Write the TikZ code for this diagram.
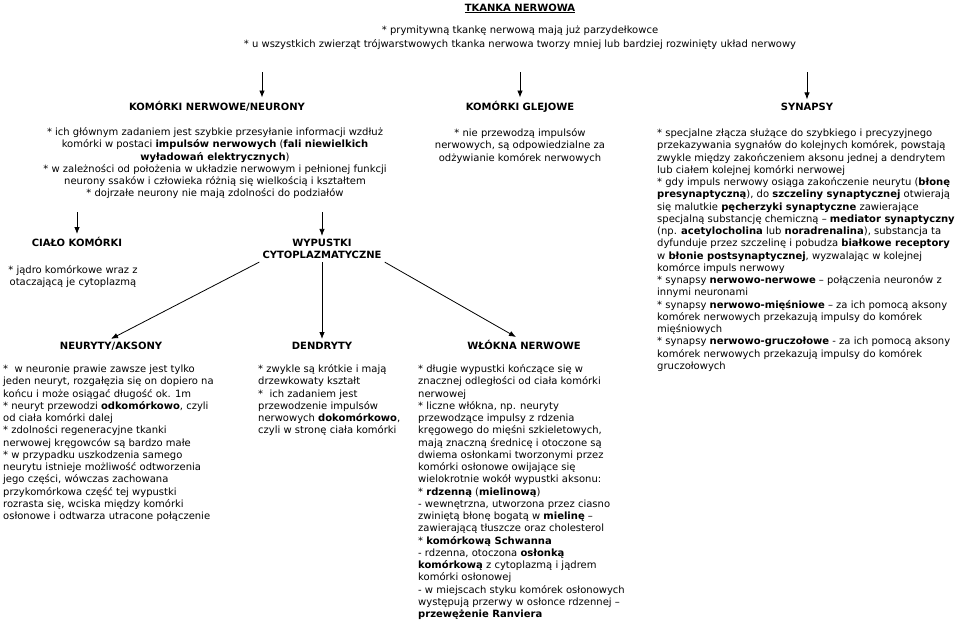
\documentclass[tikz,border=0pt]{standalone}
\usepackage{fontspec}
\setmainfont{DejaVu Sans}
\usetikzlibrary{arrows.meta, positioning}
\newcommand{\txtsize}{\fontsize{10}{12.25}\selectfont}

\begin{document}
\begin{tikzpicture}[
    x=1pt, y=-1pt,
    every node/.style={font=\txtsize, inner sep=0pt},
    head/.style={font=\txtsize\bfseries, inner sep=3pt, anchor=base, align=center},
    txt/.style={align=left, anchor=base west},
    ctxt/.style={align=center, anchor=base},
    arrow/.style={-{Latex[length=7pt, width=5.5pt]}, line width=0.8pt}
]
\useasboundingbox (0,0) rectangle (959,621);

\node[ctxt] (title) at (520,11) {\underline{\textbf{TKANKA NERWOWA}}};
\node[ctxt] (introA) at (520,33.5) {* prymitywną tkankę nerwową mają już parzydełkowce};
\node[ctxt] (introB) at (520,47.5) {* u wszystkich zwierząt trójwarstwowych tkanka nerwowa tworzy mniej lub bardziej rozwinięty układ nerwowy};

\node[head] (neurony) at (217,110) {KOMÓRKI NERWOWE/NEURONY};
\node[head] (glejowe) at (520,110) {KOMÓRKI GLEJOWE};
\node[head] (synapsy) at (807,110) {SYNAPSY};

\coordinate (neuronyIn) at (262,72);
\coordinate (glejoweIn) at (520,72);
\coordinate (synapsyIn) at (807,72);
\draw[arrow] (neuronyIn) -- (neuronyIn |- neurony.north);
\draw[arrow] (glejoweIn) -- (glejowe.north);
\draw[arrow] (synapsyIn) -- (synapsy.north);

% multi-line nodes: base = baseline of the last line
\node[ctxt] (neuronyTxt) at (215,196.75) {* ich głównym zadaniem jest szybkie przesyłanie informacji wzdłuż\\
komórki w postaci \textbf{impulsów nerwowych} (\textbf{fali niewielkich}\\
\textbf{wyładowań elektrycznych})\\
* w zależności od położenia w układzie nerwowym i pełnionej funkcji\\
neurony ssaków i człowieka różnią się wielkością i kształtem\\
* dojrzałe neurony nie mają zdolności do podziałów};

\node[ctxt] (glejoweTxt) at (520,161) {* nie przewodzą impulsów\\
nerwowych, są odpowiedzialne za\\
odżywianie komórek nerwowych};

\node[txt] (synapsyTxt) at (657,369.25) {* specjalne złącza służące do szybkiego i precyzyjnego\\
przekazywania sygnałów do kolejnych komórek, powstają\\
zwykle między zakończeniem aksonu jednej a dendrytem\\
lub ciałem kolejnej komórki nerwowej\\
* gdy impuls nerwowy osiąga zakończenie neurytu (\textbf{błonę}\\
\textbf{presynaptyczną}), do \textbf{szczeliny synaptycznej} otwierają\\
się malutkie \textbf{pęcherzyki synaptyczne} zawierające\\
specjalną substancję chemiczną – \textbf{mediator synaptyczny}\\
(np. \textbf{acetylocholina} lub \textbf{noradrenalina}), substancja ta\\
dyfunduje przez szczelinę i pobudza \textbf{białkowe receptory}\\
w \textbf{błonie postsynaptycznej}, wyzwalając w kolejnej\\
komórce impuls nerwowy\\
* synapsy \textbf{nerwowo-nerwowe} – połączenia neuronów z\\
innymi neuronami\\
* synapsy \textbf{nerwowo-mięśniowe} – za ich pomocą aksony\\
komórek nerwowych przekazują impulsy do komórek\\
mięśniowych\\
* synapsy \textbf{nerwowo-gruczołowe} - za ich pomocą aksony\\
komórek nerwowych przekazują impulsy do komórek\\
gruczołowych};

\node[head] (cialo) at (77,246.5) {CIAŁO KOMÓRKI};
\node[head] (wypustki) at (322,258.75) {WYPUSTKI\\CYTOPLAZMATYCZNE};

\coordinate (cialoIn) at (77,212);
\coordinate (wypustkiIn) at (322,212);
\draw[arrow] (cialoIn) -- (cialo.north);
\draw[arrow] (wypustkiIn) -- (wypustki.north);

\node[ctxt] (cialoTxt) at (73,285.75) {* jądro komórkowe wraz z\\
otaczającą je cytoplazmą};

\node[head] (neuryty) at (111,349.5) {NEURYTY/AKSONY};
\node[head] (dendryty) at (322,349.5) {DENDRYTY};
\node[head] (wlokna) at (524,349.5) {WŁÓKNA NERWOWE};

\draw[arrow] (wypustki.south west) -- (neuryty.north);
\draw[arrow] (wypustki.south) -- (dendryty.north);
\draw[arrow] (wypustki.south east) -- ([xshift=-8pt]wlokna.north);

\node[txt] (neurytyTxt) at (3,519.5) {*\ \ w neuronie prawie zawsze jest tylko\\
jeden neuryt, rozgałęzia się on dopiero na\\
końcu i może osiągać długość ok. 1m\\
* neuryt przewodzi \textbf{odkomórkowo}, czyli\\
od ciała komórki dalej\\
* zdolności regeneracyjne tkanki\\
nerwowej kręgowców są bardzo małe\\
* w przypadku uszkodzenia samego\\
neurytu istnieje możliwość odtworzenia\\
jego części, wówczas zachowana\\
przykomórkowa część tej wypustki\\
rozrasta się, wciska między komórki\\
osłonowe i odtwarza utracone połączenie};

\node[txt] (dendrytyTxt) at (258,433.75) {* zwykle są krótkie i mają\\
drzewkowaty kształt\\
*\ \ ich zadaniem jest\\
przewodzenie impulsów\\
nerwowych \textbf{dokomórkowo},\\
czyli w stronę ciała komórki};

\node[txt] (wloknaTxt) at (418,617.5) {* długie wypustki kończące się w\\
znacznej odległości od ciała komórki\\
nerwowej\\
* liczne włókna, np. neuryty\\
przewodzące impulsy z rdzenia\\
kręgowego do mięśni szkieletowych,\\
mają znaczną średnicę i otoczone są\\
dwiema osłonkami tworzonymi przez\\
komórki osłonowe owijające się\\
wielokrotnie wokół wypustki aksonu:\\
* \textbf{rdzenną} (\textbf{mielinową})\\
- wewnętrzna, utworzona przez ciasno\\
zwiniętą błonę bogatą w \textbf{mielinę} –\\
zawierającą tłuszcze oraz cholesterol\\
* \textbf{komórkową Schwanna}\\
- rdzenna, otoczona \textbf{osłonką}\\
\textbf{komórkową} z cytoplazmą i jądrem\\
komórki osłonowej\\
- w miejscach styku komórek osłonowych\\
występują przerwy w osłonce rdzennej –\\
\textbf{przewężenie Ranviera}};

\end{tikzpicture}
\end{document}
